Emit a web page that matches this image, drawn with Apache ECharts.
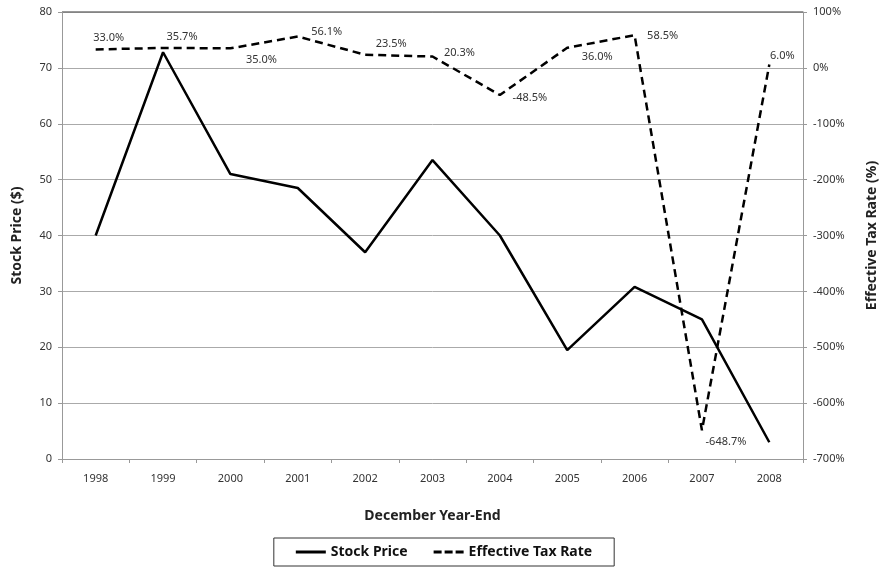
<!DOCTYPE html>
<html>
<head>
<meta charset="utf-8">
<script src="https://cdn.jsdelivr.net/npm/echarts@6/dist/echarts.min.js"></script>
<style>
  html, body { margin: 0; padding: 0; background: #fff; }
  #chart { width: 888px; height: 567px; }
</style>
</head>
<body>
<div id="chart"></div>
<script>
var years = ['1998','1999','2000','2001','2002','2003','2004','2005','2006','2007','2008'];
var stockPrice = [40, 72.8, 51, 48.5, 37, 53.5, 40, 19.5, 30.8, 25, 3];
var taxRate = [33.0, 35.7, 35.0, 56.1, 23.5, 20.3, -48.5, 36.0, 58.5, -648.7, 6.0];

// where each tax-rate label sits relative to its point
var labelOffsets = [[13,-12],[19,-11],[31,12],[29,-5],[26,-11],[27,-4],[30,3],[30,9],[28,1],[24,12],[13,-9]];

var font = "'Liberation Sans Narrow', 'Noto Sans', sans-serif";

function taxData(){
    return taxRate.map(function(v, i){
        return {
            value: v,
            label: { offset: labelOffsets[i] }
        };
    });
}

var option = {
    animation: false,
    textStyle: { fontFamily: font },
    grid: { left: 62, right: 85, top: 12, bottom: 108 },
    xAxis: {
        type: 'category',
        data: years,
        boundaryGap: true,
        name: 'December Year-End',
        nameLocation: 'middle',
        nameGap: 50,
        nameTextStyle: { fontSize: 14, fontWeight: 'bold', color: '#222', fontFamily: font },
        axisLine: { lineStyle: { color: '#999', width: 1 } },
        axisTick: { show: true, alignWithLabel: false, length: 4, lineStyle: { color: '#999' } },
        axisLabel: { color: '#333', fontSize: 11, margin: 14 }
    },
    yAxis: [
        {
            type: 'value',
            min: 0, max: 80, interval: 10,
            name: 'Stock Price ($)',
            nameLocation: 'middle',
            nameGap: 38,
            nameRotate: 90,
            nameTextStyle: { fontSize: 14, fontWeight: 'bold', color: '#222', fontFamily: font },
            axisLine: { show: true, lineStyle: { color: '#999' } },
            axisTick: { show: true, length: 4, lineStyle: { color: '#999' } },
            axisLabel: { color: '#333', fontSize: 11, margin: 10 },
            splitLine: { lineStyle: { color: '#aaa', width: 1 } }
        },
        {
            type: 'value',
            min: -700, max: 100, interval: 100,
            position: 'right',
            name: 'Effective Tax Rate (%)',
            nameLocation: 'middle',
            nameGap: 62,
            nameRotate: 90,
            nameTextStyle: { fontSize: 14, fontWeight: 'bold', color: '#222', fontFamily: font },
            axisLine: { show: true, lineStyle: { color: '#999' } },
            axisTick: { show: true, length: 4, lineStyle: { color: '#999' } },
            axisLabel: { color: '#333', fontSize: 11, margin: 10, formatter: '{value}%' },
            splitLine: { show: false }
        }
    ],
    legend: {
        bottom: 1,
        left: 'center',
        data: [
            { name: 'Stock Price', icon: 'path://M0,0h30v3h-30z' },
            { name: 'Effective Tax Rate', icon: 'path://M0,0h8v3h-8zM11,0h8v3h-8zM22,0h8v3h-8z' }
        ],
        borderColor: '#333',
        borderWidth: 1,
        borderRadius: 0,
        padding: [7, 22],
        itemGap: 26,
        itemWidth: 30,
        itemHeight: 3,
        textStyle: { fontSize: 14, fontWeight: 'bold', color: '#111', fontFamily: font }
    },
    series: [
        {
            name: 'Stock Price',
            type: 'line',
            yAxisIndex: 0,
            data: stockPrice,
            symbol: 'none',
            color: '#000',
            lineStyle: { color: '#000', width: 2.5 }
        },
        {
            name: 'Effective Tax Rate',
            type: 'line',
            yAxisIndex: 1,
            data: taxData(),
            symbol: 'circle',
            symbolSize: 0,
            showSymbol: true,
            color: '#000',
            lineStyle: { color: '#000', width: 2.5, type: [8, 5] },
            label: {
                show: true,
                position: 'inside',
                color: '#333',
                fontSize: 11,
                formatter: function(p){ return p.value.toFixed(1) + '%'; }
            }
        }
    ]
};

var myChart = echarts.init(document.getElementById('chart'));
myChart.setOption(option);
// top border of the plot area
var p0 = myChart.convertToPixel({ gridIndex: 0 }, [0, 80]);
myChart.setOption({
    graphic: [{
        type: 'line',
        shape: { x1: 62, y1: p0[1], x2: 888 - 85, y2: p0[1] },
        style: { stroke: '#777', lineWidth: 1.5 },
        silent: true
    }]
});
</script>
</body>
</html>
